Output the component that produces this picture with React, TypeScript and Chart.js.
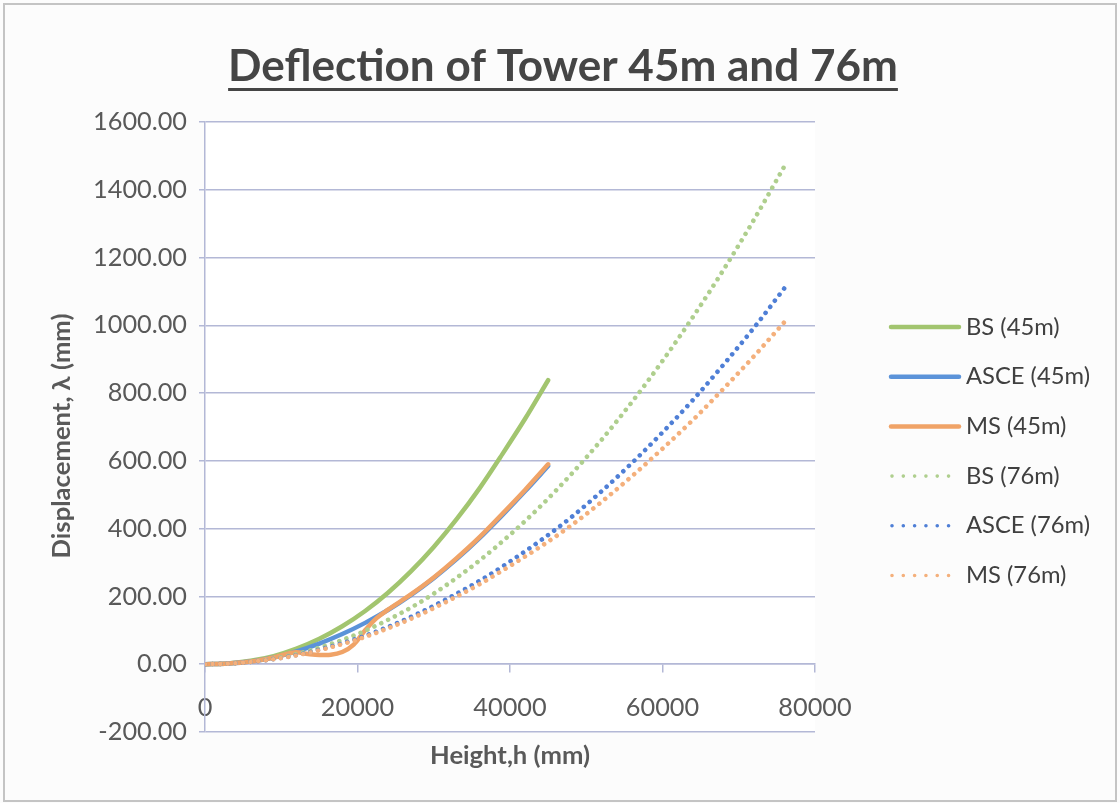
import React, { useEffect, useRef } from 'react';
import { Chart, registerables } from 'chart.js';

Chart.register(...registerables);

// ---- data ----
const heights45 = [0, 3000, 6000, 9000, 12000, 15000, 18000, 21000, 24000, 27000, 30000, 33000, 36000, 39000, 42000, 45000];
const bs45 = [0, 2, 10, 24, 46, 75, 112, 157, 211, 274, 346, 428, 519, 620, 725, 838];
const asce45 = [0, 2, 8, 20, 38, 61, 89, 122, 160, 204, 254, 310, 372, 440, 511, 585];

const heightsMs45 = [0, 3000, 6000, 9000, 12000, 13500, 15000, 16500, 18000, 19500, 21000, 22500, 24000, 27000, 30000, 33000, 36000, 39000, 42000, 45000];
const ms45 = [0, 2, 8, 20, 35, 30, 27, 28, 36, 58, 100, 136, 161, 206, 256, 313, 375, 444, 515, 590];

const heights76 = [0, 4000, 8000, 12000, 16000, 20000, 24000, 28000, 32000, 36000, 40000, 44000, 48000, 52000, 56000, 60000, 64000, 68000, 72000, 76000];
const bs76 = [0, 3, 13, 30, 56, 89, 131, 180, 239, 306, 382, 466, 560, 662, 774, 895, 1025, 1164, 1312, 1470];
const asce76 = [0, 3, 12, 27, 49, 76, 110, 150, 196, 246, 303, 365, 433, 510, 594, 684, 780, 884, 993, 1110];
const ms76 = [0, 3, 12, 26, 47, 73, 106, 144, 188, 236, 290, 347, 409, 479, 555, 636, 721, 813, 909, 1010];

const seriesLabels = ['BS (45m)', 'ASCE (45m)', 'MS (45m)', 'BS (76m)', 'ASCE (76m)', 'MS (76m)'];
const seriesColors = ['#a2c56f', '#5b93d9', '#f0a367', '#afcf8e', '#4f7fd6', '#f4b07c'];

const titleText = 'Deflection of Tower 45m and 76m';
const xTitle = 'Height,h (mm)';
const yTitle = 'Displacement, \u03bb (mm)';

const xMin = 0;
const xMax = 80000;
const xStep = 20000;
const yMin = -200;
const yMax = 1600;
const yStep = 200;

const FONT = 'Lato, "Noto Sans", sans-serif';
const GRID = '#b3b8d6';

function fitSize(text: string, weight: string, target: number): number {
  const c = document.createElement('canvas').getContext('2d') as CanvasRenderingContext2D;
  c.font = `${weight} 100px ${FONT}`;
  const w = c.measureText(text).width;
  return (100 * target) / w;
}

export default function App() {
  const ref = useRef<HTMLCanvasElement>(null);

  useEffect(() => {
    if (!ref.current) return;
    const tickSize = fitSize('1600.00', 'normal', 94);
    const legendSize = fitSize('ASCE (45m)', 'normal', 124);
    const titleSize = fitSize(titleText, 'bold', 670);
    const xTitleSize = fitSize(xTitle, 'bold', 160);
    const yTitleSize = fitSize(yTitle, 'bold', 245);

    const pts = (xs: number[], ys: number[]) => xs.map((x, i) => ({ x, y: ys[i] }));
    const seriesData = [
      pts(heights45, bs45),
      pts(heights45, asce45),
      pts(heightsMs45, ms45),
      pts(heights76, bs76),
      pts(heights76, asce76),
      pts(heights76, ms76),
    ];

    const datasets = seriesData.map((d, i) => {
      const dotted = i >= 3;
      return {
        label: seriesLabels[i],
        data: d,
        borderColor: seriesColors[i],
        backgroundColor: seriesColors[i],
        borderWidth: dotted ? 4.6 : 4.5,
        borderDash: dotted ? [0.01, 7.6] : [],
        borderCapStyle: 'round' as const,
        borderJoinStyle: 'round' as const,
        pointRadius: 0,
        fill: false,
        cubicInterpolationMode: 'monotone' as const,
        order: 10 - i,
      };
    });

    const decor = {
      id: 'decor',
      beforeDraw(chart: any) {
        const ctx = chart.ctx as CanvasRenderingContext2D;
        ctx.save();
        ctx.fillStyle = '#fcfcfc';
        ctx.fillRect(0, 0, chart.width, chart.height);
        const a = chart.chartArea;
        ctx.fillStyle = '#ffffff';
        ctx.fillRect(a.left, a.top, a.right - a.left, a.bottom - a.top);
        ctx.restore();
      },
      afterDraw(chart: any) {
        const ctx = chart.ctx as CanvasRenderingContext2D;
        ctx.save();
        // frame
        ctx.strokeStyle = '#c4c4c4';
        ctx.lineWidth = 2;
        ctx.strokeRect(4, 4, chart.width - 8, chart.height - 6);

        // title
        ctx.fillStyle = '#454545';
        ctx.font = `bold ${titleSize}px ${FONT}`;
        ctx.textAlign = 'center';
        ctx.textBaseline = 'alphabetic';
        ctx.fillText(titleText, 563, 81);
        const tw = ctx.measureText(titleText).width;
        ctx.fillRect(563 - tw / 2, 88, tw, 3);

        // axis titles
        ctx.fillStyle = '#595959';
        ctx.font = `bold ${xTitleSize}px ${FONT}`;
        ctx.textBaseline = 'middle';
        ctx.fillText(xTitle, 510, 756);
        ctx.save();
        ctx.translate(62, 436);
        ctx.rotate(-Math.PI / 2);
        ctx.font = `bold ${yTitleSize}px ${FONT}`;
        ctx.fillText(yTitle, 0, 0);
        ctx.restore();

        // legend
        ctx.textAlign = 'left';
        ctx.textBaseline = 'middle';
        ctx.font = `${legendSize}px ${FONT}`;
        seriesLabels.forEach((lab, i) => {
          const y = 327 + i * 49.7;
          const dotted = i >= 3;
          ctx.beginPath();
          ctx.strokeStyle = seriesColors[i];
          ctx.lineCap = 'round';
          if (dotted) {
            ctx.lineWidth = 3.6;
            ctx.setLineDash([0.01, 11.3]);
            ctx.moveTo(892, y);
            ctx.lineTo(950, y);
          } else {
            ctx.lineWidth = 4.5;
            ctx.setLineDash([]);
            ctx.moveTo(891, y);
            ctx.lineTo(959, y);
          }
          ctx.stroke();
          ctx.setLineDash([]);
          ctx.fillStyle = '#404040';
          ctx.fillText(lab, 966, y);
        });
        ctx.restore();
      },
    };

    const chart = new Chart(ref.current, {
      type: 'line',
      data: { datasets: datasets as any },
      options: {
        animation: false,
        responsive: false,
        devicePixelRatio: 1,
        layout: { padding: { left: 0, top: 122, right: 305, bottom: 71 } },
        plugins: {
          legend: { display: false },
          tooltip: { enabled: false },
          title: { display: false },
        },
        elements: { point: { radius: 0 } },
        scales: {
          x: {
            type: 'linear',
            min: xMin,
            max: xMax,
            position: { y: 0 } as any,
            ticks: {
              stepSize: xStep,
              color: '#595959',
              font: { family: FONT, size: tickSize },
              padding: 20,
              maxRotation: 0,
              autoSkip: false,
              callback: (v: any) => String(v),
            },
            grid: { drawOnChartArea: false, drawTicks: true, tickLength: 8, color: GRID, lineWidth: 1.5 },
            border: { display: true, color: GRID, width: 1.5 },
            afterFit: (s: any) => {
              s.height = 50;
            },
          },
          y: {
            type: 'linear',
            min: yMin,
            max: yMax,
            ticks: {
              stepSize: yStep,
              color: '#595959',
              font: { family: FONT, size: tickSize },
              padding: 12,
              callback: (v: any) => Number(v).toFixed(2),
            },
            grid: { color: GRID, lineWidth: 1.5, tickLength: 6, drawTicks: true },
            border: { display: true, color: GRID, width: 1.5 },
            afterFit: (s: any) => {
              s.width = 205;
            },
          },
        },
      } as any,
      plugins: [decor],
    });

    return () => chart.destroy();
  }, []);

  return (
    <div style={{ position: 'fixed', left: 0, top: 0, width: 1120, height: 803 }}>
      <canvas ref={ref} width={1120} height={803} style={{ display: 'block', width: 1120, height: 803 }} />
    </div>
  );
}
